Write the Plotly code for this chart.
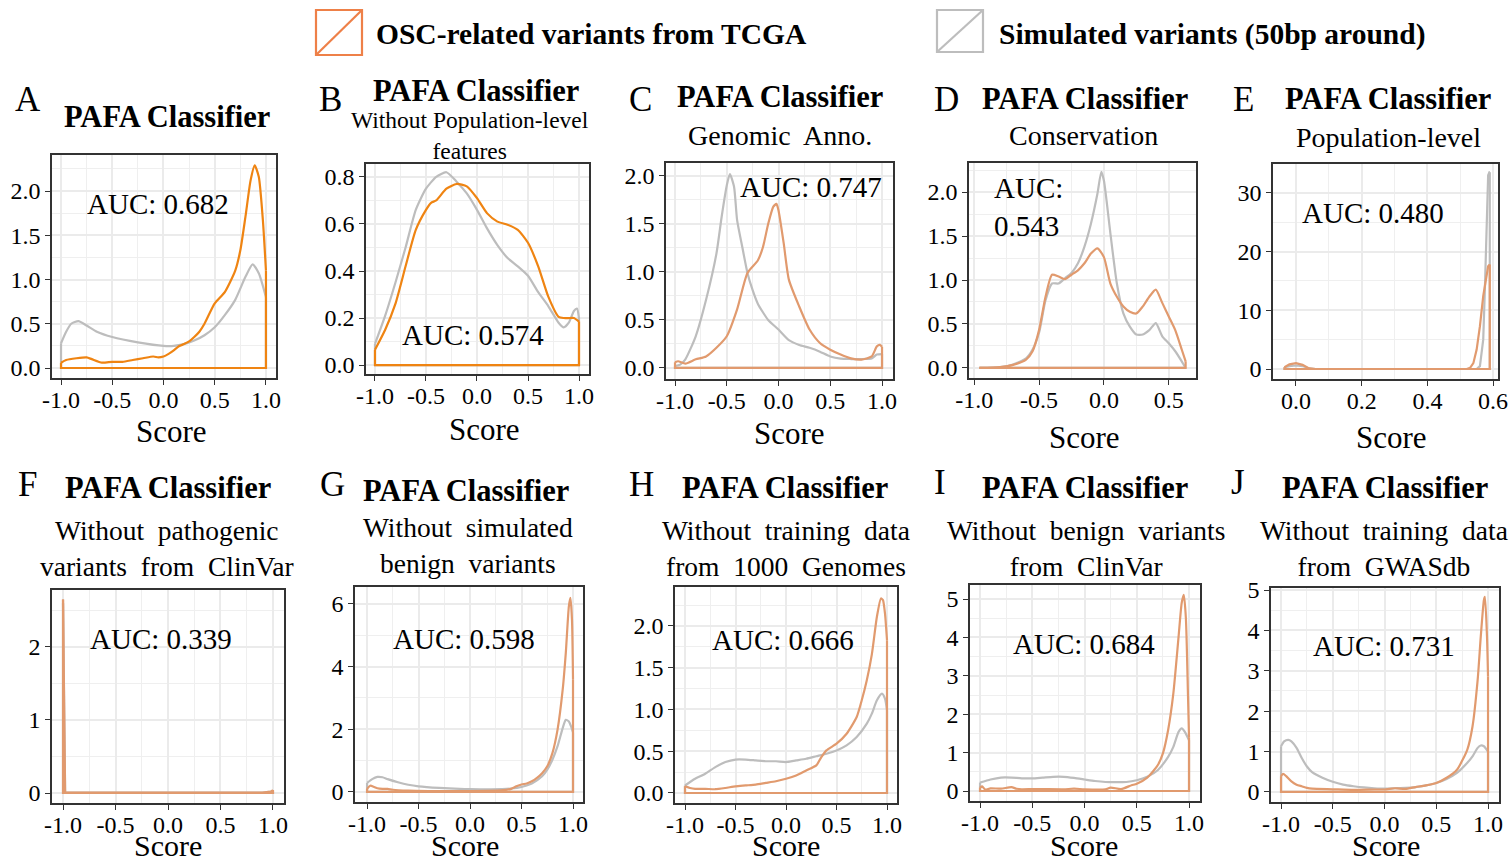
import plotly.graph_objects as go

W, H = 1512, 864
FONT = "Liberation Serif, Times New Roman, serif"
ORANGE_AB = "#EF8412"
ORANGE = "#E19A6E"
GRAY = "#BDBDBD"

# ---------------- data (density estimates) ----------------
A_osc_x = [-1.0, -0.95, -0.85, -0.75, -0.7, -0.6, -0.5, -0.4, -0.3, -0.2, -0.1, -0.05, 0.0, 0.05, 0.1, 0.15, 0.2, 0.25, 0.3, 0.35, 0.4, 0.5, 0.6, 0.7, 0.75, 0.8, 0.85, 0.89, 0.93, 0.97, 1.0]
A_osc_y = [0.06, 0.09, 0.11, 0.12, 0.10, 0.06, 0.07, 0.07, 0.09, 0.11, 0.13, 0.12, 0.13, 0.16, 0.20, 0.245, 0.27, 0.30, 0.35, 0.41, 0.50, 0.73, 0.86, 1.10, 1.33, 1.71, 2.12, 2.29, 2.16, 1.67, 1.10]
A_sim_x = [-1.0, -0.95, -0.9, -0.83, -0.75, -0.65, -0.5, -0.25, 0.0, 0.1, 0.2, 0.3, 0.4, 0.5, 0.6, 0.7, 0.8, 0.87, 0.93, 1.0]
A_sim_y = [0.28, 0.41, 0.50, 0.53, 0.48, 0.41, 0.35, 0.29, 0.25, 0.25, 0.27, 0.31, 0.37, 0.46, 0.60, 0.77, 1.03, 1.17, 1.07, 0.80]

B_osc_x = [-1.0, -0.9, -0.8, -0.7, -0.6, -0.5, -0.45, -0.4, -0.3, -0.2, -0.1, 0.0, 0.1, 0.2, 0.3, 0.4, 0.5, 0.6, 0.7, 0.8, 0.85, 0.9, 0.95, 1.0]
B_osc_y = [0.065, 0.15, 0.26, 0.42, 0.575, 0.66, 0.69, 0.70, 0.75, 0.77, 0.76, 0.71, 0.645, 0.61, 0.597, 0.575, 0.52, 0.42, 0.29, 0.205, 0.20, 0.20, 0.20, 0.185]
B_sim_x = [-1.0, -0.9, -0.8, -0.7, -0.6, -0.5, -0.4, -0.3, -0.2, -0.1, 0.0, 0.1, 0.2, 0.3, 0.4, 0.5, 0.6, 0.7, 0.8, 0.85, 0.9, 0.95, 0.98, 1.0]
B_sim_y = [0.09, 0.21, 0.35, 0.50, 0.66, 0.75, 0.80, 0.82, 0.78, 0.73, 0.66, 0.58, 0.51, 0.455, 0.42, 0.38, 0.31, 0.25, 0.18, 0.16, 0.18, 0.23, 0.24, 0.20]

C_osc_x = [-1.0, -0.97, -0.9, -0.8, -0.7, -0.6, -0.5, -0.4, -0.3, -0.2, -0.15, -0.1, -0.05, -0.02, 0.0, 0.05, 0.1, 0.2, 0.3, 0.4, 0.5, 0.6, 0.7, 0.8, 0.9, 0.95, 0.98, 1.0]
C_osc_y = [0.06, 0.07, 0.045, 0.09, 0.12, 0.21, 0.33, 0.61, 0.99, 1.12, 1.26, 1.50, 1.68, 1.71, 1.64, 1.30, 0.92, 0.64, 0.40, 0.26, 0.19, 0.14, 0.10, 0.087, 0.12, 0.225, 0.24, 0.22]
C_sim_x = [-1.0, -0.95, -0.9, -0.8, -0.7, -0.6, -0.55, -0.5, -0.47, -0.43, -0.4, -0.35, -0.3, -0.25, -0.2, -0.1, 0.0, 0.1, 0.2, 0.3, 0.4, 0.5, 0.6, 0.7, 0.8, 0.9, 0.95, 1.0]
C_sim_y = [0.02, 0.035, 0.09, 0.33, 0.71, 1.19, 1.57, 1.90, 2.02, 1.89, 1.54, 1.26, 0.99, 0.81, 0.67, 0.50, 0.40, 0.29, 0.24, 0.21, 0.17, 0.12, 0.097, 0.093, 0.093, 0.10, 0.14, 0.145]

D_osc_x = [-0.96, -0.8, -0.7, -0.6, -0.55, -0.5, -0.45, -0.4, -0.35, -0.3, -0.25, -0.2, -0.15, -0.1, -0.05, 0.0, 0.05, 0.1, 0.15, 0.2, 0.25, 0.3, 0.35, 0.4, 0.45, 0.5, 0.55, 0.6, 0.63]
D_osc_y = [0.0, 0.01, 0.035, 0.095, 0.19, 0.43, 0.81, 1.06, 1.04, 1.01, 1.06, 1.11, 1.19, 1.30, 1.36, 1.26, 0.96, 0.81, 0.70, 0.64, 0.62, 0.70, 0.81, 0.89, 0.74, 0.585, 0.43, 0.21, 0.075]
D_sim_x = [-0.96, -0.8, -0.7, -0.6, -0.55, -0.5, -0.45, -0.4, -0.35, -0.3, -0.25, -0.2, -0.15, -0.1, -0.05, -0.02, 0.0, 0.05, 0.1, 0.15, 0.2, 0.25, 0.3, 0.35, 0.4, 0.45, 0.5, 0.55, 0.6, 0.63]
D_sim_y = [0.0, 0.01, 0.04, 0.11, 0.21, 0.40, 0.77, 0.96, 0.96, 1.02, 1.08, 1.19, 1.38, 1.64, 1.98, 2.23, 2.13, 1.53, 0.96, 0.62, 0.47, 0.38, 0.38, 0.43, 0.51, 0.36, 0.28, 0.19, 0.075, 0.0]

E_osc_x = [-0.035, -0.02, 0.0, 0.02, 0.04, 0.06, 0.3, 0.52, 0.53, 0.54, 0.55, 0.56, 0.57, 0.58, 0.585, 0.59]
E_osc_y = [0.3, 0.8, 1.0, 0.7, 0.1, 0.0, 0.0, 0.0, 0.2, 1.0, 3.3, 7.3, 12.4, 16.4, 17.5, 17.8]
E_sim_x = [-0.035, -0.02, 0.0, 0.02, 0.04, 0.06, 0.3, 0.55, 0.56, 0.57, 0.575, 0.58, 0.585, 0.589, 0.59]
E_sim_y = [0.3, 0.5, 0.6, 0.5, 0.1, 0.0, 0.0, 0.0, 0.5, 5.0, 13.5, 25.0, 33.0, 33.5, 33.5]

F_osc_x = [-1.0, -0.995, -0.99, -0.985, -0.98, -0.9, 0.0, 0.9, 0.98, 1.0]
F_osc_y = [2.65, 2.0, 0.8, 0.1, 0.01, 0.005, 0.003, 0.005, 0.02, 0.04]
F_sim_x = [-1.0, -0.995, -0.99, -0.985, -0.98, -0.9, 0.0, 0.9, 0.98, 1.0]
F_sim_y = [2.6, 1.9, 0.75, 0.1, 0.01, 0.005, 0.003, 0.005, 0.02, 0.03]

G_osc_x = [-1.0, -0.97, -0.93, -0.9, -0.85, -0.8, -0.75, -0.6, -0.4, 0.0, 0.3, 0.4, 0.45, 0.5, 0.55, 0.6, 0.65, 0.7, 0.75, 0.8, 0.85, 0.9, 0.93, 0.96, 0.975, 0.99, 1.0]
G_osc_y = [0.10, 0.20, 0.16, 0.12, 0.10, 0.10, 0.07, 0.04, 0.03, 0.03, 0.05, 0.10, 0.18, 0.24, 0.27, 0.34, 0.45, 0.60, 0.82, 1.24, 1.99, 3.27, 4.44, 5.93, 6.19, 5.50, 3.60]
G_sim_x = [-1.0, -0.95, -0.9, -0.85, -0.8, -0.7, -0.6, -0.5, -0.3, -0.1, 0.0, 0.2, 0.4, 0.5, 0.6, 0.7, 0.75, 0.8, 0.85, 0.9, 0.93, 0.96, 0.98, 1.0]
G_sim_y = [0.29, 0.41, 0.48, 0.47, 0.41, 0.31, 0.23, 0.18, 0.13, 0.10, 0.09, 0.085, 0.11, 0.16, 0.27, 0.50, 0.71, 1.03, 1.46, 2.04, 2.30, 2.25, 2.10, 1.90]

H_osc_x = [-1.0, -0.95, -0.9, -0.8, -0.7, -0.6, -0.5, -0.4, -0.3, -0.2, -0.1, 0.0, 0.1, 0.2, 0.3, 0.35, 0.4, 0.5, 0.6, 0.7, 0.75, 0.8, 0.85, 0.9, 0.94, 0.96, 0.98, 1.0]
H_osc_y = [0.08, 0.06, 0.05, 0.05, 0.045, 0.06, 0.08, 0.09, 0.10, 0.12, 0.14, 0.17, 0.21, 0.27, 0.33, 0.43, 0.51, 0.59, 0.71, 0.91, 1.11, 1.35, 1.66, 2.11, 2.33, 2.31, 2.15, 1.83]
H_sim_x = [-1.0, -0.9, -0.8, -0.7, -0.6, -0.5, -0.4, -0.3, -0.2, -0.1, 0.0, 0.1, 0.2, 0.3, 0.4, 0.5, 0.6, 0.7, 0.8, 0.85, 0.9, 0.95, 0.98, 1.0]
H_sim_y = [0.09, 0.17, 0.23, 0.31, 0.37, 0.40, 0.40, 0.39, 0.38, 0.38, 0.37, 0.39, 0.41, 0.44, 0.47, 0.51, 0.57, 0.67, 0.83, 0.95, 1.11, 1.19, 1.13, 0.99]

I_osc_x = [-1.0, -0.98, -0.95, -0.9, -0.8, -0.7, -0.65, -0.6, -0.5, -0.4, -0.2, -0.1, 0.0, 0.2, 0.25, 0.35, 0.45, 0.5, 0.6, 0.7, 0.75, 0.8, 0.85, 0.9, 0.93, 0.95, 0.97, 0.99, 1.0]
I_osc_y = [0.09, 0.12, 0.035, 0.07, 0.06, 0.10, 0.06, 0.045, 0.05, 0.05, 0.045, 0.06, 0.045, 0.045, 0.09, 0.05, 0.15, 0.19, 0.35, 0.67, 0.98, 1.59, 2.54, 4.02, 4.90, 5.11, 4.50, 2.50, 1.40]
I_sim_x = [-1.0, -0.9, -0.8, -0.7, -0.6, -0.5, -0.4, -0.3, -0.2, -0.1, 0.0, 0.1, 0.2, 0.3, 0.4, 0.5, 0.6, 0.7, 0.8, 0.85, 0.9, 0.93, 0.96, 1.0]
I_sim_y = [0.22, 0.30, 0.35, 0.35, 0.33, 0.33, 0.35, 0.37, 0.37, 0.34, 0.30, 0.26, 0.235, 0.23, 0.235, 0.28, 0.37, 0.54, 0.89, 1.15, 1.54, 1.63, 1.54, 1.32]

J_osc_x = [-1.0, -0.98, -0.95, -0.9, -0.85, -0.8, -0.75, -0.7, -0.5, -0.3, -0.1, 0.0, 0.1, 0.2, 0.3, 0.4, 0.5, 0.6, 0.7, 0.8, 0.85, 0.9, 0.93, 0.96, 0.97, 0.99, 1.0]
J_osc_y = [0.39, 0.45, 0.39, 0.26, 0.18, 0.14, 0.10, 0.08, 0.065, 0.05, 0.06, 0.06, 0.09, 0.075, 0.12, 0.16, 0.22, 0.35, 0.55, 1.05, 1.62, 2.78, 3.85, 4.75, 4.83, 3.85, 2.86]
J_sim_x = [-1.0, -0.97, -0.93, -0.9, -0.85, -0.8, -0.75, -0.7, -0.6, -0.5, -0.4, -0.3, -0.2, -0.1, 0.0, 0.1, 0.2, 0.3, 0.4, 0.5, 0.6, 0.7, 0.8, 0.85, 0.9, 0.93, 0.96, 1.0]
J_sim_y = [1.13, 1.25, 1.29, 1.25, 1.09, 0.84, 0.63, 0.49, 0.35, 0.25, 0.18, 0.14, 0.11, 0.09, 0.08, 0.09, 0.10, 0.12, 0.16, 0.22, 0.32, 0.47, 0.72, 0.88, 1.09, 1.15, 1.13, 1.00]

# tick values / labels
score_ticks = [-1.0, -0.5, 0.0, 0.5, 1.0]
score_ticks_D = [-1.0, -0.5, 0.0, 0.5]
score_ticks_E = [0.0, 0.2, 0.4, 0.6]
dens_ticks_half = [0.0, 0.5, 1.0, 1.5, 2.0]
dens_ticks_B = [0.0, 0.2, 0.4, 0.6, 0.8]
dens_ticks_E = [0, 10, 20, 30]
dens_ticks_F = [0, 1, 2]
dens_ticks_G = [0, 2, 4, 6]
dens_ticks_5 = [0, 1, 2, 3, 4, 5]

auc_labels = ["AUC: 0.682", "AUC: 0.574", "AUC: 0.747", "AUC:<br>0.543", "AUC: 0.480",
              "AUC: 0.339", "AUC: 0.598", "AUC: 0.666", "AUC: 0.684", "AUC: 0.731"]
panel_letters = ["A", "B", "C", "D", "E", "F", "G", "H", "I", "J"]
subtitles = ["", "Without Population-level<br>features", "Genomic  Anno.", "Conservation", "Population-level",
             "Without  pathogenic<br>variants  from  ClinVar", "Without  simulated<br>benign  variants",
             "Without  training  data<br>from  1000  Genomes", "Without  benign  variants<br>from  ClinVar",
             "Without  training  data<br>from  GWASdb"]
legend_labels = ["OSC-related variants from TCGA", "Simulated variants (50bp around)"]

# ---------------- layout geometry (pixels) ----------------
# score: (x centre, y centre) for the top row; bottom-row titles sit on the bottom edge (y=None)
panels = [
    dict(osc=(A_osc_x, A_osc_y), sim=(A_sim_x, A_sim_y), box=(52, 276, 155, 378), xr=(-1.088, 1.098), yr=(-0.113, 2.407),
         xt=score_ticks, yt=dens_ticks_half, yfmt=".1f", col=ORANGE_AB, shape="spline",
         letter=(28, 100), title=(167, 117), sub=None, auc=(158, 204), score=(171, 431)),
    dict(osc=(B_osc_x, B_osc_y), sim=(B_sim_x, B_sim_y), box=(366, 589, 164, 374), xr=(-1.088, 1.098), yr=(-0.038, 0.855),
         xt=score_ticks, yt=dens_ticks_B, yfmt=".1f", col=ORANGE_AB, shape="spline",
         letter=(330, 100), title=(476, 91), sub=(470, 135, 23.5), auc=(473, 335), score=(484, 430)),
    dict(osc=(C_osc_x, C_osc_y), sim=(C_sim_x, C_sim_y), box=(666, 893, 163, 379), xr=(-1.087, 1.106), yr=(-0.115, 2.135),
         xt=score_ticks, yt=dens_ticks_half, yfmt=".1f", col=ORANGE, shape="spline",
         letter=(640, 100), title=(780, 97), sub=(780, 135, 28), auc=(811, 187), score=(790, 433)),
    dict(osc=(D_osc_x, D_osc_y), sim=(D_sim_x, D_sim_y), box=(969, 1196, 163, 378), xr=(-1.04, 0.71), yr=(-0.114, 2.33),
         xt=score_ticks_D, yt=dens_ticks_half, yfmt=".1f", col=ORANGE, shape="spline",
         letter=(947, 100), title=(1085, 99), sub=(1083, 135, 28), auc=(992, 207), score=(1084, 437)),
    dict(osc=(E_osc_x, E_osc_y), sim=(E_sim_x, E_sim_y), box=(1273, 1498, 164, 379), xr=(-0.070, 0.615), yr=(-1.7, 34.9),
         xt=score_ticks_E, yt=dens_ticks_E, yfmt="d", col=ORANGE, shape="linear",
         letter=(1243, 100), title=(1388, 99), sub=(1388, 137, 28), auc=(1373, 213), score=(1391, 437)),
    dict(osc=(F_osc_x, F_osc_y), sim=(F_sim_x, F_sim_y), box=(52, 284, 590, 803), xr=(-1.105, 1.105), yr=(-0.137, 2.78),
         xt=score_ticks, yt=dens_ticks_F, yfmt="d", col=ORANGE, shape="linear",
         letter=(27, 484), title=(168, 488), sub=(167, 548, 27.5), auc=(161, 639), score=(168, None)),
    dict(osc=(G_osc_x, G_osc_y), sim=(G_sim_x, G_sim_y), box=(355, 583, 587, 802), xr=(-1.117, 1.097), yr=(-0.32, 6.54),
         xt=score_ticks, yt=dens_ticks_G, yfmt="d", col=ORANGE, shape="spline",
         letter=(332, 484), title=(466, 491), sub=(468, 545, 27.5), auc=(464, 639), score=(465, None)),
    dict(osc=(H_osc_x, H_osc_y), sim=(H_sim_x, H_sim_y), box=(675, 897, 587, 803), xr=(-1.099, 1.099), yr=(-0.12, 2.467),
         xt=score_ticks, yt=dens_ticks_half, yfmt=".1f", col=ORANGE, shape="spline",
         letter=(641, 484), title=(785, 488), sub=(786, 548, 27.5), auc=(783, 640), score=(786, None)),
    dict(osc=(I_osc_x, I_osc_y), sim=(I_sim_x, I_sim_y), box=(970, 1200, 585, 801), xr=(-1.096, 1.105), yr=(-0.26, 5.365),
         xt=score_ticks, yt=dens_ticks_5, yfmt="d", col=ORANGE, shape="spline",
         letter=(940, 482), title=(1085, 488), sub=(1086, 548, 27.5), auc=(1084, 644), score=(1084, None)),
    dict(osc=(J_osc_x, J_osc_y), sim=(J_sim_x, J_sim_y), box=(1271, 1499, 588, 802), xr=(-1.097, 1.106), yr=(-0.25, 5.05),
         xt=score_ticks, yt=dens_ticks_5, yfmt="d", col=ORANGE, shape="spline",
         letter=(1238, 482), title=(1385, 488), sub=(1384, 548, 27.5), auc=(1384, 646), score=(1386, None)),
]


def px(x):
    return x / W


def py(y):
    return 1 - y / H


def minor_vals(major, lo, hi):
    step = major[1] - major[0]
    out = []
    v = major[0] - step * 1.5
    while v < hi + step:
        if lo <= v <= hi:
            out.append(round(v, 6))
        v += step
    return out


def fmt(v, f):
    return f"{v:.1f}" if f == ".1f" else f"{int(round(v))}"


fig = go.Figure()
annotations = []
shapes = []

for i, p in enumerate(panels):
    n = "" if i == 0 else str(i + 1)
    xa, ya = "x" + n, "y" + n
    for (xs, ys), color in ((p["sim"], GRAY), (p["osc"], p["col"])):
        fig.add_trace(go.Scatter(x=xs, y=ys, mode="lines", xaxis=xa, yaxis=ya, showlegend=False,
                                 line=dict(color=color, width=2.2, shape=p["shape"], smoothing=0.6),
                                 hoverinfo="skip"))
        # closure of the density polygon (vertical drops and baseline)
        fig.add_trace(go.Scatter(x=[xs[-1], xs[-1], xs[0], xs[0]], y=[ys[-1], 0, 0, ys[0]], mode="lines",
                                 xaxis=xa, yaxis=ya, showlegend=False,
                                 line=dict(color=color, width=2.2), hoverinfo="skip"))
    l, r, t, b = p["box"]
    common = dict(showline=True, linecolor="#333333", linewidth=1.6, mirror=True, automargin=False,
                  ticks="outside", ticklen=5, tickwidth=1.3, tickcolor="#333333",
                  showgrid=True, gridcolor="#EBEBEB", gridwidth=1.6, zeroline=False,
                  tickfont=dict(family=FONT, size=24, color="black"), fixedrange=True)
    xaxis = dict(domain=[px(l), px(r)], range=list(p["xr"]), anchor=ya, tickmode="array",
                 tickvals=p["xt"], ticktext=[f"{v:.1f}" for v in p["xt"]], ticklabelstandoff=-6,
                 minor=dict(tickmode="array", tickvals=minor_vals(p["xt"], *p["xr"]), showgrid=True,
                            gridcolor="#EFEFEF", gridwidth=0.9, ticks=""),
                 **common)
    yaxis = dict(domain=[py(b), py(t)], range=list(p["yr"]), anchor=xa, tickmode="array",
                 tickvals=p["yt"], ticktext=[fmt(v, p["yfmt"]) for v in p["yt"]],
                 minor=dict(tickmode="array", tickvals=minor_vals(p["yt"], *p["yr"]), showgrid=True,
                            gridcolor="#EFEFEF", gridwidth=0.9, ticks=""),
                 **common)
    fig.layout["xaxis" + n] = xaxis
    fig.layout["yaxis" + n] = yaxis

    lx, ly = p["letter"]
    annotations.append(dict(x=px(lx), y=py(ly), text=panel_letters[i], font=dict(family=FONT, size=35, color="black")))
    tx, ty = p["title"]
    annotations.append(dict(x=px(tx), y=py(ty), text="<b>PAFA Classifier</b>", font=dict(family=FONT, size=30.5, color="black")))
    if p["sub"]:
        sx, sy, ss = p["sub"]
        annotations.append(dict(x=px(sx), y=py(sy), text=subtitles[i], font=dict(family=FONT, size=ss, color="black")))
    ax_, ay_ = p["auc"]
    if i == 3:
        annotations.append(dict(x=px(ax_), y=py(ay_), text=auc_labels[i], xanchor="left", align="left",
                                font=dict(family=FONT, size=29, color="black")))
    else:
        annotations.append(dict(x=px(ax_), y=py(ay_), text=auc_labels[i], font=dict(family=FONT, size=29, color="black")))
    scx, scy = p["score"]
    if scy is None:
        annotations.append(dict(x=px(scx), y=0, yanchor="bottom", text="Score",
                                font=dict(family=FONT, size=30, color="black")))
    else:
        annotations.append(dict(x=px(scx), y=py(scy), text="Score", font=dict(family=FONT, size=31, color="black")))

# legend (keys drawn as boxes with a diagonal, like ggplot polygon keys)
legend_cols = ["#EE8048", "#BDBDBD"]
legend_boxes = [(316, 362, 10, 55), (937, 983, 10, 52)]
legend_text_x = [374, 997]
for (l, r, t, b), c, tx, lab in zip(legend_boxes, legend_cols, legend_text_x, legend_labels):
    shapes.append(dict(type="rect", xref="paper", yref="paper", x0=px(l), x1=px(r), y0=py(b), y1=py(t),
                       line=dict(color=c, width=2.2)))
    shapes.append(dict(type="line", xref="paper", yref="paper", x0=px(l), x1=px(r), y0=py(b), y1=py(t),
                       line=dict(color=c, width=2.2)))
    annotations.append(dict(x=px(tx), y=py(34), xanchor="left", text=f"<b>{lab}</b>",
                            font=dict(family=FONT, size=29.5, color="black")))

for a in annotations:
    a.setdefault("xref", "paper")
    a.setdefault("yref", "paper")
    a.setdefault("showarrow", False)
    a.setdefault("xanchor", "center")
    a.setdefault("yanchor", "middle")

fig.update_layout(template="none", width=W, height=H,
                  margin=dict(l=0, r=0, t=0, b=0, pad=0, autoexpand=False),
                  paper_bgcolor="white", plot_bgcolor="white", showlegend=False,
                  annotations=annotations, shapes=shapes,
                  font=dict(family=FONT, color="black"))

fig.write_html("out.html", config={"displayModeBar": False},
               post_script="document.body.style.margin='0px';document.body.style.padding='0px';"
                           "document.body.style.overflow='hidden';")
